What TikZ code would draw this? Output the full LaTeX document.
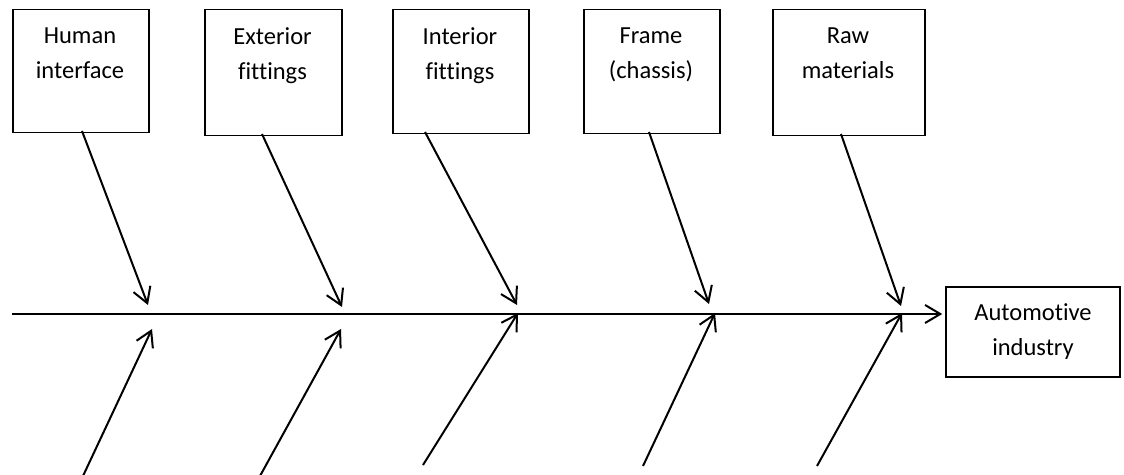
\documentclass[tikz,border=0pt]{standalone}
\usepackage{fontspec}
\setmainfont{Carlito}[Ligatures={NoCommon}]
\usetikzlibrary{arrows.meta}
\begin{document}
\begin{tikzpicture}[x=0.5pt,y=-0.5pt,
  cause/.style={draw=black,line width=0.75pt,inner sep=0pt,anchor=north west},
  lbl/.style={align=center,inner sep=0pt,anchor=north,font=\fontsize{12.25}{17.5}\selectfont},
  arr/.style={line width=1pt,-{Straight Barb[length=7.6pt,width=9pt,line width=1pt]}}]
\useasboundingbox (0,0) rectangle (1124,475);
% top cause boxes
\node[cause,minimum width=68pt,minimum height=61.5pt] (b1) at (12,9) {};
\node[cause,minimum width=68.5pt,minimum height=63pt] (b2) at (204,9) {};
\node[cause,minimum width=68pt,minimum height=62pt] (b3) at (392,9) {};
\node[cause,minimum width=68pt,minimum height=62pt] (b4) at (583,9) {};
\node[cause,minimum width=76pt,minimum height=63pt] (b5) at (772,9) {};
\node[lbl] (l1) at (80,27) {Human\\interface};
\node[lbl] (l2) at (272.5,27) {Exterior\\fittings};
\node[lbl] (l3) at (460,27) {Interior\\fittings};
\node[lbl] (l4) at (651,27) {Frame\\(chassis)};
\node[lbl] (l5) at (848,27) {Raw\\materials};
% effect box
\node[draw=black,line width=0.75pt,minimum width=87pt,minimum height=45pt,inner sep=0pt,
      align=center,font=\fontsize{12.25}{17.5}\selectfont] (eff) at (1033,332) {Automotive\\industry};
% spine
\coordinate (s0) at (12,314);
\draw[arr,shorten >=1.5pt] (s0) -- (s0 -| eff.west);
% top bones
\coordinate (t1a) at (82,131);  \coordinate (t1b) at (148,305);
\coordinate (t2a) at (262,134); \coordinate (t2b) at (342,307);
\coordinate (t3a) at (425,132); \coordinate (t3b) at (517,305);
\coordinate (t4a) at (649,132); \coordinate (t4b) at (709,304);
\coordinate (t5a) at (841,134); \coordinate (t5b) at (901,306);
\foreach \i in {1,...,5} \draw[arr] (t\i a) -- (t\i b);
% bottom bones
\coordinate (u1a) at (83,476);  \coordinate (u1b) at (152,329);
\coordinate (u2a) at (260,476); \coordinate (u2b) at (341,329);
\coordinate (u3a) at (423,465); \coordinate (u3b) at (518,313);
\coordinate (u4a) at (643,466); \coordinate (u4b) at (715,313);
\coordinate (u5a) at (817,466); \coordinate (u5b) at (902,313);
\foreach \i in {1,...,5} \draw[arr] (u\i a) -- (u\i b);
\end{tikzpicture}
\end{document}
